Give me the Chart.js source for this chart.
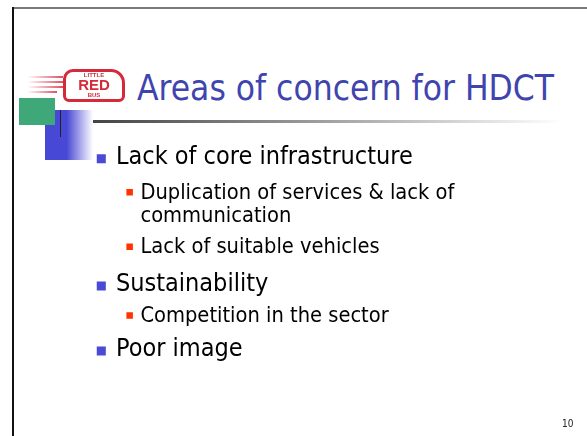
<!DOCTYPE html>
<html lang="en">
<head>
    <meta charset="UTF-8">
    <title>Areas of concern for HDCT</title>
    <script src="https://cdn.jsdelivr.net/npm/chart.js"></script>
    <style>
        body {
            margin: 0;
            width: 587px;
            height: 436px;
            background: #fff;
            position: relative;
            overflow: hidden;
            font-family: 'DejaVu Sans Condensed', 'DejaVu Sans', sans-serif;
        }
        .frame-top { position: absolute; left: 12px; top: 7px; width: 575px; height: 2px; background: #7a7a7a; }
        .frame-left { position: absolute; left: 12px; top: 7px; width: 2px; height: 429px; background: #111; }
        .green { position: absolute; left: 19px; top: 98px; width: 36px; height: 27px; background: #3ea879; z-index: 3; }
        .blue { position: absolute; left: 45px; top: 110px; width: 48px; height: 50px;
                background: linear-gradient(to right, #4848d6 0, #4848d6 45%, #fff 100%); z-index: 2; }
        .vline { position: absolute; left: 60px; top: 110px; width: 1px; height: 27px; background: #222; z-index: 4; }
        .rule { position: absolute; left: 93px; top: 120px; width: 470px; height: 3px;
                background: linear-gradient(to right, #444, #fff); }
        .title { position: absolute; left: 137px; top: 68px; font-size: 35px; color: #3f44ae; white-space: nowrap; }
        .logo { position: absolute; left: 27px; top: 68px; width: 100px; height: 34px; z-index: 1; }
        .speed { position: absolute; left: 0; height: 2px; background: linear-gradient(to right, #fff, #e05060); }
        .bus { position: absolute; left: 36px; top: 1px; width: 56px; height: 27px; border: 3px solid #d42a3a;
               border-radius: 10px 14px 6px 6px; text-align: center; color: #d42a3a; font-family: 'Liberation Sans', sans-serif; }
        .bus .s { font-size: 6px; font-weight: bold; line-height: 6px; display: block; }
        .bus .r { font-size: 15px; font-weight: bold; line-height: 14px; display: block; }
        .page { position: absolute; left: 562px; top: 418px; font-size: 10px; color: #222; }
        #slide { position: absolute; left: 0; top: 0; }
    </style>
</head>
<body>
    <div class="frame-top"></div>
    <div class="frame-left"></div>
    <div class="logo">
        <div class="speed" style="top:8px;width:36px"></div>
        <div class="speed" style="top:13px;width:36px"></div>
        <div class="speed" style="top:18px;width:36px"></div>
        <div class="speed" style="top:23px;width:30px"></div>
        <div class="bus"><span class="s">LITTLE</span><span class="r">RED</span><span class="s">BUS</span></div>
    </div>
    <div class="green"></div>
    <div class="blue"></div>
    <div class="vline"></div>
    <div class="rule"></div>
    <div class="title">Areas of concern for HDCT</div>
    <canvas id="slide" width="587" height="436"></canvas>
    <div class="page">10</div>

    <script>
        // Contenu des puces
        const items = [
            'Lack of core infrastructure',
            'Duplication of services & lack of',
            'communication',
            'Lack of suitable vehicles',
            'Sustainability',
            'Competition in the sector',
            'Poor image'
        ];
        const levels = [1, 2, 0, 2, 1, 2, 1];   // 0 = continuation line (no bullet)
        const baselines = [162, 198, 222, 254, 293, 325, 360];

        const indent = { 1: 97, 2: 126 };
        const textIndent = { 1: 112, 2: 137 };
        const fontSize = { 1: 25, 2: 21.7 };
        const bulletDrop = { 1: 5, 2: 6.5 };

        const points = [];
        items.forEach((t, i) => {
            let lvl = levels[i] || 2;
            points.push({ x: indent[lvl], y: baselines[i] - bulletDrop[lvl], text: t, lvl: lvl, bullet: levels[i] > 0 });
        });

        const labelPlugin = {
            id: 'labels',
            afterDatasetsDraw(chart) {
                const c = chart.ctx;
                const xs = chart.scales.x, ys = chart.scales.y;
                c.save();
                c.fillStyle = '#000';
                c.textBaseline = 'alphabetic';
                points.forEach((p, i) => {
                    c.font = fontSize[p.lvl] + "px 'DejaVu Sans Condensed', 'DejaVu Sans', sans-serif";
                    c.fillText(p.text, xs.getPixelForValue(textIndent[p.lvl]), ys.getPixelForValue(baselines[i]));
                });
                c.restore();
            }
        };

        new Chart(document.getElementById('slide'), {
            type: 'scatter',
            data: {
                datasets: [{
                    data: points.filter(p => p.bullet),
                    pointStyle: 'rect',
                    pointRadius: ctx => ctx.raw && ctx.raw.lvl === 1 ? 6.4 : 4.6,
                    pointBackgroundColor: ctx => ctx.raw && ctx.raw.lvl === 1 ? '#4a4ad6' : '#ff3300',
                    pointBorderWidth: 0
                }]
            },
            options: {
                responsive: false,
                animation: false,
                layout: { padding: 0 },
                plugins: { legend: { display: false }, tooltip: { enabled: false } },
                scales: {
                    x: { type: 'linear', min: 0, max: 587, display: false },
                    y: { type: 'linear', min: 0, max: 436, reverse: true, display: false }
                }
            },
            plugins: [labelPlugin]
        });
    </script>
</body>
</html>
